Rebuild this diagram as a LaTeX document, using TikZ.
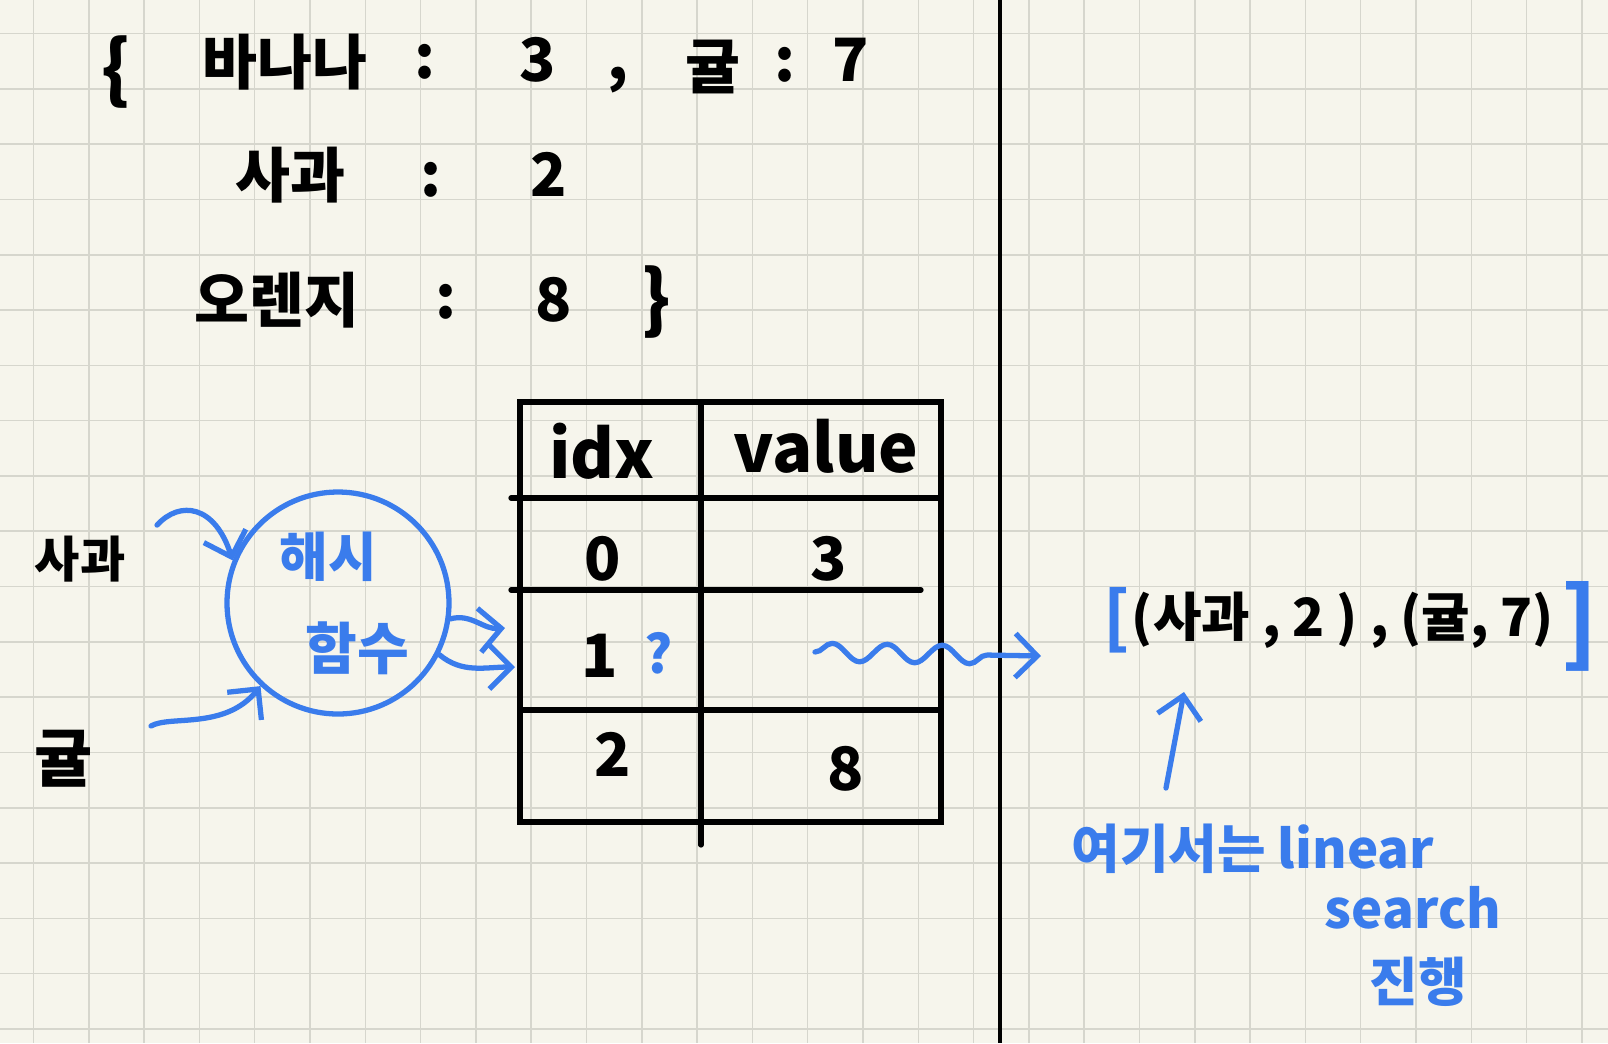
\documentclass[tikz,border=0pt]{standalone}
\usepackage{fontspec}
\setmainfont{Noto Sans CJK KR}
\usetikzlibrary{arrows.meta,decorations.pathmorphing}

\definecolor{paper}{RGB}{246,245,236}
\definecolor{gridline}{RGB}{214,214,205}
\definecolor{pen}{RGB}{58,124,236}

\tikzset{
  ink/.style={font=\fontsize{17}{20}\selectfont\bfseries, inner sep=0pt},
  blueink/.style={ink, text=pen},
  penline/.style={draw=pen, line width=1.5pt, line cap=round, line join=round},
  penarrow/.style={penline, -{Straight Barb[length=2.2mm, width=4.4mm]}},
  tableline/.style={line width=1.5pt, line cap=round},
}

\begin{document}
\begin{tikzpicture}[x=0.1mm, y=-0.1mm]

\fill[paper] (0,0) rectangle (1608,1043);
\useasboundingbox (0,0) rectangle (1608,1043);
\foreach \k in {0,...,28}
  \draw[gridline, line width=0.45pt] ({33.5+55.3*\k},0) -- ++(0,1043);
\foreach \k in {0,...,18}
  \draw[gridline, line width=0.45pt] (0,{33.5+55.3*\k}) -- ++(1608,0);
\draw[line width=0.9pt] (1000,0) -- (1000,1043);

\node[ink, font=\fontsize{21}{24}\selectfont\bfseries] (lbrace) at (116,72) {\{};
\node[ink] (banana) at (285,62) {바나나};
\node[ink] (colon1) at (425,62) {:};
\node[ink] (three) at (538,60) {3};
\node[ink] (comma) at (618,80) {,};
\node[ink] (gyul) at (713,67) {귤};
\node[ink] (colon2) at (785,65) {:};
\node[ink] (seven) at (851,60) {7};

\node[ink] (apple) at (290,175) {사과};
\node[ink] (colon3) at (431,180) {:};
\node[ink] (two) at (549,174) {2};

\node[ink] (orange) at (277,300) {오렌지};
\node[ink] (colon4) at (446,302) {:};
\node[ink] (eight) at (554,300) {8};
\node[ink, font=\fontsize{21}{24}\selectfont\bfseries] (rbrace) at (656,302) {\}};

\draw[tableline] (520,402) rectangle (941,822);
\draw[tableline] (701,402) -- (701,845);
\draw[tableline] (511,498) -- (941,498);
\draw[tableline] (511,590) -- (921,590);
\draw[tableline] (520,710) -- (941,710);

\node[ink, font=\fontsize{19}{22}\selectfont\bfseries] (idx) at (602,451) {idx};
\node[ink, font=\fontsize{19}{22}\selectfont\bfseries] (value) at (826,446) {value};
\node[ink] (idx0) at (603,559) {0};
\node[ink] (val0) at (829,559) {3};
\node[ink] (idx1) at (600,656) {1};
\node[blueink, font=\fontsize{15}{18}\selectfont\bfseries] (clash) at (659,653) {?};
\node[ink] (idx2) at (613,754) {2};
\node[ink] (val2) at (846,769) {8};

\node[circle, draw=pen, line width=1.5pt, minimum size=22.2mm, inner sep=0pt] (hash) at (338,603) {};
\node[blueink, font=\fontsize{15}{18}\selectfont\bfseries] (hashA) at (328,557) {해시};
\node[blueink, font=\fontsize{16}{19}\selectfont\bfseries] (hashB) at (357,648) {함수};

\node[ink, font=\fontsize{14}{17}\selectfont\bfseries] (keyapple) at (80,559) {사과};
\node[ink, font=\fontsize{18}{21}\selectfont\bfseries] (keygyul) at (64,759) {귤};

\coordinate (slotA) at (505,628);
\coordinate (slotB) at (515,667);
\coordinate (waveA) at (815,652);
\coordinate (waveB) at (1041,656);
\coordinate (noteup) at (1166,788);
\coordinate (pairsdown) at (1184,692);

\draw[penarrow, shorten <=4.6mm] (keyapple.east) .. controls (180,500) and (215,505) .. (hash.158);
\draw[penarrow, shorten <=6.6mm] (keygyul.east) .. controls (170,715) and (225,730) .. (hash.227);
\draw[penarrow] (hash.-8) to[out=15, in=185] (slotA);
\draw[penarrow] (hash.-27) to[out=-40, in=180] (slotB);
\draw[penarrow, decorate, decoration={snake, amplitude=0.9mm, segment length=5.5mm, post length=4mm}] (waveA) -- (waveB);

\node[blueink, font=\fontsize{19}{22}\selectfont\bfseries] (lbracket) at (1117,620) {[};
\node[ink, font=\fontsize{15}{18}\selectfont\bfseries] (pairs) at (1343,620) {(사과 , 2 ) , (귤, 7)};
\node[blueink, font=\fontsize{26}{29}\selectfont\bfseries] (rbracket) at (1580,626) {]};

\draw[penarrow] (noteup) -- (pairsdown);
\node[blueink, font=\fontsize{15}{18}\selectfont\bfseries] (note) at (1253,849) {여기서는 linear};
\node[blueink, font=\fontsize{15}{18}\selectfont\bfseries] (search) at (1413,908) {search};
\node[blueink, font=\fontsize{15}{18}\selectfont\bfseries] (goon) at (1418,982) {진행};

\end{tikzpicture}
\end{document}
